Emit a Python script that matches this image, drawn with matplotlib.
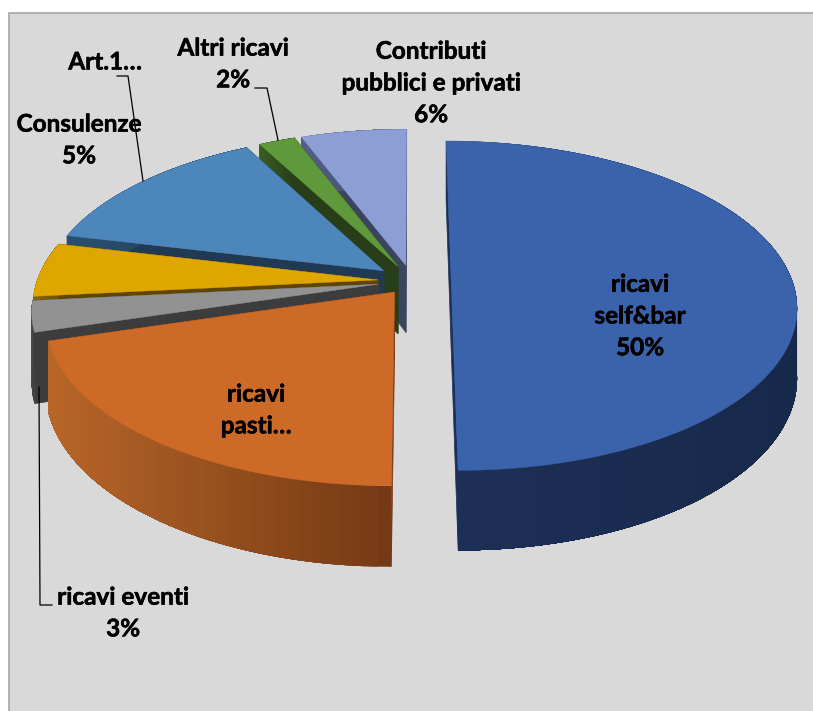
import numpy as np
import matplotlib
matplotlib.use("Agg")
import matplotlib.pyplot as plt
import matplotlib.patheffects as pe
from matplotlib.patches import Rectangle

# slice values in %, clockwise from the top right
names = ["ricavi self&bar", "ricavi pasti", "ricavi eventi", "Consulenze", "Art.1", "Altri ricavi", "Contributi"]
values = [50, 20.4, 3, 5.3, 13.5, 2, 5.8]
explode = [0.115, 0.085, 0.1, 0.1, 0.105, 0.1, 0.1]

top_colors = ["#3A63AB", "#CD6A27", "#929292", "#E0A600", "#4D86BB", "#5F993B", "#8C9ED3"]
cut_colors = ["#1B3059", "#7A3C16", "#3C3C3C", "#5F4500", "#1F3A52", "#273E18", "#3A4560"]
wall_left = ["#1E3058", "#B96628", "#4A4A4A", "#8A6400", "#2A5070", "#3A5C22", "#55608A"]
wall_right = ["#17294A", "#753A15", "#3C3C3C", "#6E5000", "#1F3A52", "#273E18", "#3A4560"]

# camera settings, all in pixels
cx, cy = 412, 281
fx, fy = 341, 161
persp = 0.15
depth = 68
start_angle = 90


def project(X, Z, drop=0.0):
    w = 1 / (1 + persp * Z)
    return cx + fx * X * w, cy - fy * Z * w + drop * w


def rgb(c):
    return np.array(matplotlib.colors.to_rgb(c))


fig = plt.figure(figsize=(8.13, 7.11), dpi=100)
ax = fig.add_axes([0, 0, 1, 1])
ax.set_xlim(0, 813)
ax.set_ylim(711, 0)
ax.axis("off")
ax.add_patch(Rectangle((8.5, 12.5), 830, 730, fc="#D9D9D9", ec="#A6A6A6", lw=1.2))

# angles from the values
sweeps = np.array(values) / sum(values) * 360
ends = start_angle - np.cumsum(sweeps)
starts = ends + sweeps

# back slices first, blue last
for i in [6, 5, 4, 3, 2, 1, 0]:
    th = np.radians(np.linspace(starts[i], ends[i], 120))
    mid = np.radians((starts[i] + ends[i]) / 2)
    ox, oz = explode[i] * np.cos(mid), explode[i] * np.sin(mid)
    X = np.concatenate([[ox], ox + np.cos(th), [ox]])
    Z = np.concatenate([[oz], oz + np.sin(th), [oz]])

    # the two cut faces
    for k in [1, len(X) - 2]:
        px, py = project(np.array([ox, X[k]]), np.array([oz, Z[k]]))
        qx, qy = project(np.array([X[k], ox]), np.array([Z[k], oz]), depth)
        ax.fill(np.r_[px, qx], np.r_[py, qy], color=cut_colors[i], lw=0.5)

    # rim shading: every strip reaches to the far end so the seams do not show
    ex, ey = project(X[1:-1], Z[1:-1])
    bx, by = project(X[1:-1], Z[1:-1], depth)
    span = ex.max() - ex.min()
    for k in range(0, len(ex) - 1, 3):
        f = (ex[k] - ex.min()) / span
        col = rgb(wall_left[i]) * (1 - f) + rgb(wall_right[i]) * f
        ax.fill(np.r_[ex[k:], bx[k:][::-1]], np.r_[ey[k:], by[k:][::-1]], color=col, lw=0)

    tx, ty = project(X, Z)
    ax.fill(tx, ty, color=top_colors[i], lw=0.3)

# leader lines
ax.plot([117, 128, 143], [76, 76, 181], color="black", lw=0.9)
ax.plot([255, 267, 278], [88, 88, 140], color="black", lw=0.9)
ax.plot([52, 40, 39], [605, 605, 387], color="black", lw=0.9)

font = dict(family="Lato", fontweight="bold", fontsize=17.5, color="black",
            ha="center", va="center", linespacing=1.46,
            path_effects=[pe.withStroke(linewidth=0.4, foreground="black")])
ax.text(233, 64, "Altri ricavi\n2%", **font)
ax.text(431, 83, "Contributi\npubblici e privati\n6%", **font)
ax.text(105, 62, "Art.1…", **font)
ax.text(79, 140, "Consulenze\n5%", **font)
ax.text(640, 316, "ricavi\nself&bar\n50%", **font)
ax.text(256, 410, "ricavi\npasti…", **font)
ax.text(123, 613, "ricavi eventi\n3%", **font)

fig.savefig("out.png", dpi=100)
